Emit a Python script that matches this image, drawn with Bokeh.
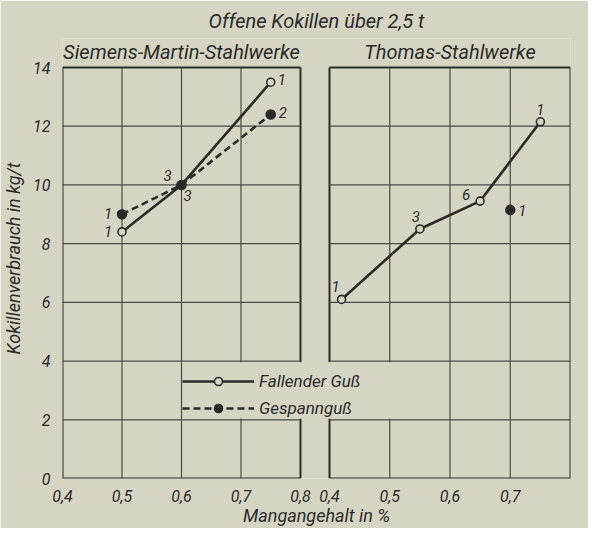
from bokeh.plotting import figure
from bokeh.models import (Range1d, FixedTicker, Label, Legend, LegendItem,
                          ColumnDataSource)
from bokeh.core.properties import value
from bokeh.embed import file_html
from bokeh.resources import INLINE

# ---------------- data ----------------
mn_ticks = [0.4, 0.5, 0.6, 0.7, 0.8]
mn_tick_labels = ["0,4", "0,5", "0,6", "0,7", "0,8"]
y_ticks = [0, 2, 4, 6, 8, 10, 12, 14]

# Siemens-Martin-Stahlwerke
sm_fall_x = [0.5, 0.6, 0.75]
sm_fall_y = [8.4, 10.0, 13.5]
sm_fall_n = ["1", "3", "1"]
sm_gesp_x = [0.5, 0.6, 0.75]
sm_gesp_y = [9.0, 10.0, 12.4]
sm_gesp_n = ["1", "3", "2"]

# Thomas-Stahlwerke
th_fall_x = [0.42, 0.55, 0.65, 0.75]
th_fall_y = [6.1, 8.5, 9.45, 12.15]
th_fall_n = ["1", "3", "6", "1"]
th_gesp_x = [0.7]
th_gesp_y = [9.15]
th_gesp_n = ["1"]

# label placement (pixels, style only)
sm_fall_dx = [-14, 6, 11]
sm_fall_dy = [0, 11, -3]
sm_gesp_dx = [-14, -14, 12]
sm_gesp_dy = [-1, -9, -2]
th_fall_dx = [-6, -4, -14, 0]
th_fall_dy = [-13, -12, -7, -12]
th_gesp_dx = [12]
th_gesp_dy = [1]

# ---------------- style ----------------
BG = "#d6d5c4"
INK = "#2a2a28"
GRID = "#4a4a46"
FONT = "Roboto"

FRAME_W = 508
FRAME_H = 440
PANEL_H = 411   # pixel height of the panels (0 .. 14)
LEFT_W = 238    # pixel width of the left panel
RIGHT_W = 241   # pixel width of the right panel
sL = LEFT_W / 0.4
sR = RIGHT_W / 0.4
Y_TOP = y_ticks[-1]

x_left = Range1d(0.4, 0.4 + FRAME_W / sL)
x_right = Range1d(0.8 - FRAME_W / sR, 0.8)
y_rng = Range1d(0, Y_TOP * FRAME_H / PANEL_H)

p = figure(frame_width=FRAME_W, frame_height=FRAME_H,
           x_range=x_left, y_range=y_rng,
           min_border_left=59, min_border_right=18,
           min_border_top=30, min_border_bottom=46,
           output_backend="svg", toolbar_location=None,
           background_fill_color=BG, border_fill_color=BG,
           outline_line_color=None,
           title="Offene Kokillen über 2,5 t")
p.extra_x_ranges = {"right": x_right}
p.xgrid.visible = False
p.ygrid.visible = False

p.title.align = "center"
p.title.text_font = FONT
p.title.text_font_style = "italic"
p.title.text_font_size = "20px"
p.title.text_color = INK
p.title.standoff = 12

# ---------------- panels ----------------
def panel(rname):
    kw = {} if rname is None else {"x_range_name": rname}
    inner = mn_ticks[1:-1]
    p.segment(x0=inner, y0=0, x1=inner, y1=Y_TOP, line_color=GRID, line_width=1.2, **kw)
    p.segment(x0=[mn_ticks[0], mn_ticks[-1]], y0=0, x1=[mn_ticks[0], mn_ticks[-1]], y1=Y_TOP,
              line_color=INK, line_width=2, **kw)
    p.segment(x0=mn_ticks[0], y0=y_ticks[1:-1], x1=mn_ticks[-1], y1=y_ticks[1:-1],
              line_color=GRID, line_width=1.2, **kw)

panel(None)
panel("right")

# blank field for the legend (between y = 2 and 4)
px_x = 1.5 / sL
px_y = 1.2 * Y_TOP / PANEL_H
p.quad(left=0.6 + px_x, right=0.9, bottom=2 + px_y, top=4 - px_y,
       fill_color=BG, line_color=None)
p.quad(left=0.3, right=0.6 - px_x, bottom=2 + px_y, top=4 - px_y,
       fill_color=BG, line_color=None, x_range_name="right")

# horizontal frame lines on top
for rname in (None, "right"):
    kw = {} if rname is None else {"x_range_name": rname}
    p.segment(x0=mn_ticks[0], y0=[y_ticks[0], Y_TOP], x1=mn_ticks[-1],
              y1=[y_ticks[0], Y_TOP], line_color=INK, line_width=2, **kw)

# ---------------- data series ----------------
def series(xs, ys, filled, rname):
    kw = {} if rname is None else {"x_range_name": rname}
    ln = None
    if len(xs) > 1:
        ln = p.line(xs, ys, line_color=INK, line_width=2.6,
                    line_dash="solid" if not filled else "7 4", **kw)
    sc = p.scatter(xs, ys, marker="circle", size=8 if not filled else 9,
                   fill_color=BG if not filled else INK, line_color=INK,
                   line_width=1.6, **kw)
    return ln, sc

r1, r2 = series(sm_fall_x, sm_fall_y, False, None)
r3, r4 = series(sm_gesp_x, sm_gesp_y, True, None)
series(th_fall_x, th_fall_y, False, "right")
series(th_gesp_x, th_gesp_y, True, "right")

def counts(xs, ys, ns, dx, dy, rname):
    kw = {} if rname is None else {"x_range_name": rname}
    src = ColumnDataSource(dict(x=xs, y=ys, t=ns, dx=dx, dy=dy))
    p.text(x="x", y="y", text="t", x_offset="dx", y_offset="dy", source=src,
           text_font=value(FONT), text_font_style="italic", text_font_size="15px",
           text_align="center", text_baseline="middle", text_color=INK, **kw)

counts(sm_fall_x, sm_fall_y, sm_fall_n, sm_fall_dx, sm_fall_dy, None)
counts(sm_gesp_x, sm_gesp_y, sm_gesp_n, sm_gesp_dx, sm_gesp_dy, None)
counts(th_fall_x, th_fall_y, th_fall_n, th_fall_dx, th_fall_dy, "right")
counts(th_gesp_x, th_gesp_y, th_gesp_n, th_gesp_dx, th_gesp_dy, "right")

# ---------------- panel titles ----------------
for txt, rname in (("Siemens-Martin-Stahlwerke", None), ("Thomas-Stahlwerke", "right")):
    kw = {} if rname is None else {"x_range_name": rname}
    p.add_layout(Label(x=0.6, y=Y_TOP, y_offset=4, text=txt, text_align="center",
                       text_baseline="bottom", text_font=FONT, text_font_style="italic",
                       text_font_size="20px", text_color=INK, **kw))

# ---------------- axes ----------------
right_as_left = [round(0.4 + (FRAME_W - (0.8 - v) * sR) / sL, 6) for v in mn_ticks]
xt = [round(v, 6) for v in mn_ticks] + right_as_left
overrides = {}
for v, lab in zip(mn_ticks, mn_tick_labels):
    overrides[round(v, 6)] = lab
for v, lab in zip(right_as_left, mn_tick_labels):
    overrides[v] = lab

xa = p.xaxis[0]
xa.ticker = FixedTicker(ticks=xt)
xa.major_label_overrides = overrides
xa.axis_label = "Mangangehalt in %"
ya = p.yaxis[0]
ya.ticker = FixedTicker(ticks=y_ticks)
ya.axis_label = "Kokillenverbrauch in kg/t"
for ax in (xa, ya):
    ax.axis_line_color = None
    ax.major_tick_line_color = None
    ax.minor_tick_line_color = None
    ax.major_label_text_font = FONT
    ax.major_label_text_font_style = "italic"
    ax.major_label_text_font_size = "16px"
    ax.major_label_text_color = INK
    ax.axis_label_text_font = FONT
    ax.axis_label_text_font_style = "italic"
    ax.axis_label_text_font_size = "18px"
    ax.axis_label_text_color = INK
xa.major_label_standoff = 5
xa.axis_label_standoff = 0
ya.major_label_standoff = 6
ya.axis_label_standoff = 6

# ---------------- legend ----------------
legend = Legend(items=[LegendItem(label="Fallender Guß", renderers=[r1, r2]),
                       LegendItem(label="Gespannguß", renderers=[r3, r4])],
                location=(120, 60), glyph_width=72, glyph_height=20, spacing=7,
                padding=0, margin=0, label_standoff=5,
                background_fill_alpha=0, border_line_color=None,
                label_text_font=FONT, label_text_font_style="italic",
                label_text_font_size="17px", label_text_color=INK)
p.add_layout(legend)

open("out.html", "w").write(file_html(p, INLINE))
